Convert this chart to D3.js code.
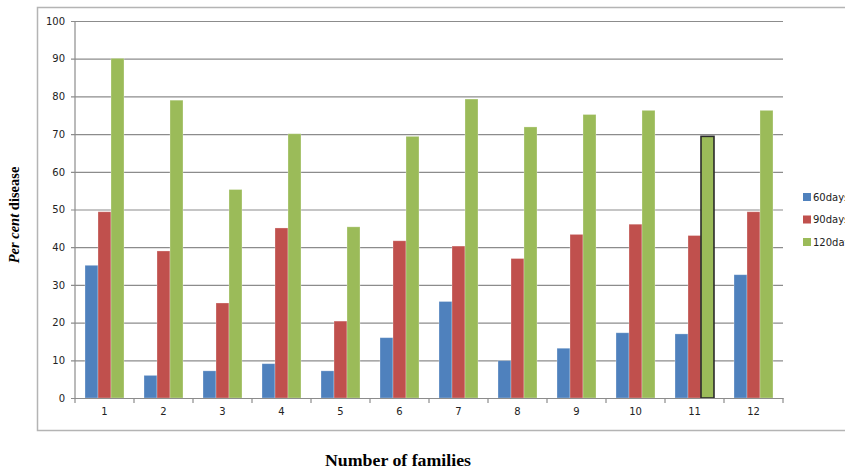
<!DOCTYPE html>
<html>
<head>
<meta charset="utf-8">
<script src="https://cdn.jsdelivr.net/npm/d3@7"></script>
<style>
  html, body { margin: 0; padding: 0; background: #fff; overflow: hidden; }
  svg { display: block; }
</style>
</head>
<body>
<svg id="chart" width="845" height="472"></svg>
<script>
// Disease incidence per family at three observation times
const families = ["1", "2", "3", "4", "5", "6", "7", "8", "9", "10", "11", "12"];
const seriesNames = ["60days", "90days", "120days"];
const days60  = [35.2, 6.0, 7.2, 9.1, 7.2, 16.0, 25.6, 9.9, 13.2, 17.3, 17.0, 32.7];
const days90  = [49.4, 39.0, 25.2, 45.1, 20.4, 41.7, 40.3, 37.0, 43.4, 46.1, 43.1, 49.4];
const days120 = [90.1, 79.0, 55.3, 70.1, 45.4, 69.4, 79.3, 71.9, 75.2, 76.3, 69.4, 76.3];
const yTicks  = [0, 10, 20, 30, 40, 50, 60, 70, 80, 90, 100];
const colors  = ["#4F81BD", "#C0504D", "#9BBB59"];
const highlighted = { family: "11", series: "120days" };

const seriesValues = [days60, days90, days120];
const rows = families.map((f, i) => ({
  family: f,
  values: seriesNames.map((s, k) => ({ series: s, value: seriesValues[k][i] }))
}));

const svg = d3.select("#chart");
const plot = { left: 75, right: 783, top: 21, bottom: 398 };

// Outer chart frame (runs off the right edge)
svg.append("rect")
  .attr("x", 37.5).attr("y", 7.5)
  .attr("width", 900).attr("height", 423)
  .attr("fill", "none").attr("stroke", "#b4b4b4").attr("stroke-width", 1.5);

const x = d3.scaleBand().domain(families).range([plot.left, plot.right]).padding(0);
const xs = d3.scaleBand().domain(seriesNames).range([0, x.bandwidth()])
  .paddingInner(0).paddingOuter(0.77);
const y = d3.scaleLinear().domain([0, 100]).range([plot.bottom, plot.top]);
const color = d3.scaleOrdinal().domain(seriesNames).range(colors);

// Horizontal gridlines + y labels
const yAxis = d3.axisLeft(y).tickValues(yTicks)
  .tickSize(-(plot.right - plot.left)).tickSizeOuter(0).tickPadding(10);
const gy = svg.append("g").attr("transform", `translate(${plot.left},0)`).call(yAxis);
gy.select(".domain").remove();
gy.selectAll(".tick line")
  .attr("x1", -4)
  .attr("stroke", "#8c8c8c").attr("stroke-width", 1.2);
gy.selectAll(".tick text")
  .attr("font-family", "DejaVu Sans, Verdana, sans-serif")
  .attr("font-size", 10).attr("fill", "#222");

// Bars
const groups = svg.append("g").selectAll("g")
  .data(rows).join("g")
  .attr("transform", d => `translate(${x(d.family)},0)`);

groups.selectAll("rect")
  .data(d => d.values.map(v => ({ ...v, family: d.family })))
  .join("rect")
  .attr("x", d => xs(d.series))
  .attr("y", d => y(d.value))
  .attr("width", xs.bandwidth())
  .attr("height", d => y(0) - y(d.value))
  .attr("fill", d => color(d.series))
  .attr("stroke", d => (d.family === highlighted.family && d.series === highlighted.series) ? "#2b2b2b" : "rgba(255,255,255,0.35)")
  .attr("stroke-width", d => (d.family === highlighted.family && d.series === highlighted.series) ? 1.6 : 0.8);

// Y axis line
svg.append("line")
  .attr("x1", plot.left).attr("x2", plot.left)
  .attr("y1", plot.top).attr("y2", plot.bottom)
  .attr("stroke", "#8c8c8c").attr("stroke-width", 1.2);

// X axis with ticks on category boundaries
const gx = svg.append("g").attr("transform", `translate(0,${plot.bottom})`)
  .call(d3.axisBottom(x).tickSize(0).tickPadding(10));
gx.select(".domain").attr("stroke", "#8c8c8c").attr("stroke-width", 1.2);
gx.selectAll(".tick text")
  .attr("font-family", "DejaVu Sans, Verdana, sans-serif")
  .attr("font-size", 10).attr("fill", "#222");
gx.selectAll("line.boundary")
  .data(families.map(f => x(f)).concat([plot.right]))
  .join("line").attr("class", "boundary")
  .attr("x1", d => d).attr("x2", d => d)
  .attr("y1", 0).attr("y2", 5)
  .attr("stroke", "#8c8c8c").attr("stroke-width", 1.2);

// Legend (its right part runs past the frame edge)
const legend = svg.append("g").attr("transform", "translate(803,193)");
const li = legend.selectAll("g").data(seriesNames).join("g")
  .attr("transform", (d, i) => `translate(0,${i * 22.5})`);
li.append("rect").attr("width", 8).attr("height", 8).attr("fill", d => color(d));
li.append("text").attr("x", 10).attr("y", 7.5)
  .attr("font-family", "DejaVu Sans, Verdana, sans-serif")
  .attr("font-size", 10).attr("fill", "#222")
  .text(d => d);

// Axis titles
svg.append("text")
  .attr("x", 398).attr("y", 466)
  .attr("text-anchor", "middle")
  .attr("font-family", "Liberation Serif, Times New Roman, serif")
  .attr("font-weight", "bold").attr("font-size", 16).attr("fill", "#000")
  .attr("textLength", 146).attr("lengthAdjust", "spacingAndGlyphs")
  .text("Number of families");

const yt = svg.append("text")
  .attr("transform", "translate(19,215) rotate(-90)")
  .attr("text-anchor", "middle")
  .attr("font-family", "Liberation Serif, Times New Roman, serif")
  .attr("font-weight", "bold").attr("font-size", 14.5).attr("fill", "#000");
yt.append("tspan").attr("font-style", "italic").text("Per cent");
yt.append("tspan").text(" disease");
</script>
</body>
</html>
